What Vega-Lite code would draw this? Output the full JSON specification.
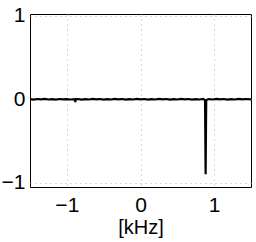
{
  "$schema": "https://vega.github.io/schema/vega-lite/v6.json",
  "width": 221,
  "height": 173,
  "autosize": {"type": "none"},
  "padding": {"left": 30, "top": 14, "right": 5, "bottom": 55},
  "background": "white",
  "config": {
    "font": "Liberation Sans",
    "view": {"stroke": "black", "strokeWidth": 1},
    "axis": {
      "labelFont": "Liberation Sans",
      "titleFont": "Liberation Sans",
      "labelFontSize": 21,
      "titleFontSize": 20,
      "labelColor": "black",
      "titleColor": "black",
      "titleFontWeight": "normal",
      "domain": false,
      "ticks": false,
      "gridColor": "#b0b0b0",
      "gridDash": [1, 4],
      "gridWidth": 1
    }
  },
  "data": {
    "values": [
      {"f": -1.5, "v": 0.002}, {"f": -1.45, "v": -0.004}, {"f": -1.4, "v": 0.003},
      {"f": -1.35, "v": -0.002}, {"f": -1.3, "v": 0.004}, {"f": -1.25, "v": -0.003},
      {"f": -1.2, "v": 0.001}, {"f": -1.15, "v": -0.004}, {"f": -1.1, "v": 0.003},
      {"f": -1.05, "v": -0.002}, {"f": -1.0, "v": 0.002}, {"f": -0.95, "v": -0.003},
      {"f": -0.89, "v": 0.0}, {"f": -0.885, "v": -0.035}, {"f": -0.88, "v": 0.0},
      {"f": -0.85, "v": 0.003}, {"f": -0.8, "v": -0.004}, {"f": -0.75, "v": 0.002},
      {"f": -0.7, "v": -0.003}, {"f": -0.65, "v": 0.004}, {"f": -0.6, "v": -0.002},
      {"f": -0.55, "v": 0.003}, {"f": -0.5, "v": -0.004}, {"f": -0.45, "v": 0.002},
      {"f": -0.4, "v": -0.003}, {"f": -0.35, "v": 0.004}, {"f": -0.3, "v": -0.002},
      {"f": -0.25, "v": 0.003}, {"f": -0.2, "v": -0.004}, {"f": -0.15, "v": 0.002},
      {"f": -0.1, "v": -0.003}, {"f": -0.05, "v": 0.004}, {"f": 0.0, "v": -0.002},
      {"f": 0.05, "v": 0.003}, {"f": 0.1, "v": -0.004}, {"f": 0.15, "v": 0.002},
      {"f": 0.2, "v": -0.003}, {"f": 0.25, "v": 0.004}, {"f": 0.3, "v": -0.002},
      {"f": 0.35, "v": 0.003}, {"f": 0.4, "v": -0.004}, {"f": 0.45, "v": 0.002},
      {"f": 0.5, "v": -0.003}, {"f": 0.55, "v": 0.004}, {"f": 0.6, "v": -0.002},
      {"f": 0.65, "v": 0.003}, {"f": 0.7, "v": -0.004}, {"f": 0.75, "v": 0.002},
      {"f": 0.8, "v": -0.003}, {"f": 0.85, "v": 0.003}, {"f": 0.876, "v": -0.01},
      {"f": 0.884, "v": -0.9}, {"f": 0.892, "v": -0.01},
      {"f": 0.93, "v": 0.002}, {"f": 0.98, "v": -0.003}, {"f": 1.03, "v": 0.004},
      {"f": 1.08, "v": -0.002}, {"f": 1.13, "v": 0.003}, {"f": 1.18, "v": -0.004},
      {"f": 1.23, "v": 0.002}, {"f": 1.28, "v": -0.003}, {"f": 1.33, "v": 0.004},
      {"f": 1.38, "v": -0.002}, {"f": 1.43, "v": 0.003}, {"f": 1.5, "v": -0.002}
    ]
  },
  "mark": {"type": "line", "color": "black", "strokeWidth": 2.2, "clip": true},
  "encoding": {
    "x": {
      "field": "f", "type": "quantitative",
      "scale": {"domain": [-1.5, 1.5], "nice": false, "zero": false},
      "axis": {"values": [-1, 0, 1], "title": "[kHz]", "labelPadding": 7, "titlePadding": 2, "labelOverlap": false, "labelFlush": false, "labelExpr": "datum.value < 0 ? '\u2212' + abs(datum.value) : '' + datum.value"}
    },
    "y": {
      "field": "v", "type": "quantitative",
      "scale": {"domain": [-1.054, 1.024], "nice": false, "zero": false},
      "axis": {"values": [-1, 0, 1], "title": null, "labelPadding": 5, "labelOverlap": false, "labelFlush": false, "labelBound": false, "labelExpr": "datum.value < 0 ? '\u2212' + abs(datum.value) : '' + datum.value"}
    }
  }
}
